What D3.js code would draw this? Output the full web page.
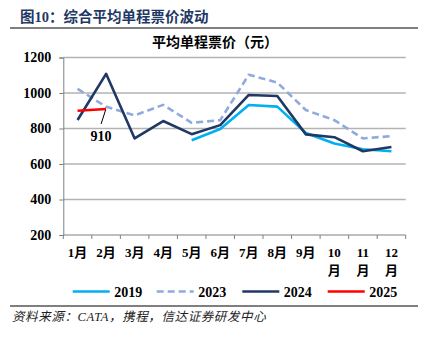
<!DOCTYPE html>
<html>
<head>
<meta charset="utf-8">
<script src="https://cdn.jsdelivr.net/npm/d3@7"></script>
<style>
  html, body { margin: 0; padding: 0; background: #fff; }
  svg { display: block; }
</style>
</head>
<body>
<svg id="chart" width="434" height="340"></svg>
<script>
// Monthly average one-way fare (yuan)
const months = ["1月","2月","3月","4月","5月","6月","7月","8月","9月","10月","11月","12月"];
const yTicks = [200, 400, 600, 800, 1000, 1200];
const fare2019 = [null, null, null, null, 734, 797, 932, 923, 775, 716, 683, 672];
const fare2023 = [1023, 923, 874, 933, 832, 847, 1103, 1059, 904, 847, 744, 757];
const fare2024 = [848, 1108, 744, 842, 768, 819, 989, 983, 767, 751, 672, 696];
const fare2025 = [900, 910];
const seriesNames = ["2019", "2023", "2024", "2025"];

(function () {
  const serif = "'Liberation Serif','Times New Roman','Noto Sans CJK SC',serif";
  const svg = d3.select("#chart");

  const series = [
    { name: seriesNames[0], values: fare2019, color: "#00b0f0", dash: null },
    { name: seriesNames[1], values: fare2023, color: "#8faadc", dash: "7,4" },
    { name: seriesNames[2], values: fare2024, color: "#1f3864", dash: null },
    { name: seriesNames[3], values: fare2025, color: "#ff0000", dash: null }
  ];

  const plotL = 63.3, plotR = 405.7, plotT = 57.5, plotB = 235;
  const x = d3.scaleBand().domain(months).range([plotL, plotR]).paddingInner(0).paddingOuter(0);
  const y = d3.scaleLinear().domain([200, 1200]).range([plotB, plotT]);
  const cx = m => x(m) + x.bandwidth() / 2;

  // Figure heading and rules
  svg.append("text").attr("x", 20).attr("y", 22)
    .attr("font-family", serif).attr("font-weight", "bold").attr("font-size", 14.5)
    .attr("fill", "#1f3864").text("图10：综合平均单程票价波动");
  svg.append("line").attr("x1", 10).attr("x2", 418).attr("y1", 28).attr("y2", 28)
    .attr("stroke", "#555").attr("stroke-width", 1.5);
  svg.append("line").attr("x1", 10).attr("x2", 418).attr("y1", 306).attr("y2", 306)
    .attr("stroke", "#555").attr("stroke-width", 1.5);

  // Chart title
  svg.append("text").attr("x", 215).attr("y", 47).attr("text-anchor", "middle")
    .attr("font-family", serif).attr("font-weight", "bold").attr("font-size", 14)
    .attr("fill", "#000").text("平均单程票价（元）");

  // Horizontal gridlines
  svg.append("g").selectAll("line").data(yTicks.filter(t => t > 200)).join("line")
    .attr("x1", plotL).attr("x2", plotR)
    .attr("y1", d => y(d)).attr("y2", d => y(d))
    .attr("stroke", "#b3b3b3").attr("stroke-width", 1.3);

  // Y axis
  const yAxis = svg.append("g").attr("transform", `translate(${plotL},0)`)
    .call(d3.axisLeft(y).tickValues(yTicks).tickFormat(d3.format("d")).tickSize(4).tickPadding(8));
  yAxis.select(".domain").attr("stroke", "#7f7f7f");
  yAxis.selectAll(".tick line").attr("stroke", "#7f7f7f");
  yAxis.selectAll("text").attr("font-family", serif).attr("font-weight", "bold")
    .attr("font-size", 14).attr("fill", "#000");

  // X axis with boundary ticks between months
  const xg = svg.append("g");
  xg.append("line").attr("x1", plotL).attr("x2", plotR).attr("y1", plotB).attr("y2", plotB)
    .attr("stroke", "#7f7f7f");
  const boundaries = months.map(m => x(m)).concat([plotR]);
  xg.selectAll("line.tk").data(boundaries).join("line").attr("class", "tk")
    .attr("x1", d => d).attr("x2", d => d).attr("y1", plotB).attr("y2", plotB + 4)
    .attr("stroke", "#7f7f7f");
  xg.selectAll("text").data(months).join("text")
    .attr("text-anchor", "middle")
    .attr("font-family", serif).attr("font-weight", "bold").attr("font-size", 13)
    .attr("fill", "#000")
    .each(function (d) {
      const t = d3.select(this);
      const px = cx(d);
      if (d.length > 2) {
        t.append("tspan").attr("x", px).attr("y", 257).text(d.slice(0, -1));
        t.append("tspan").attr("x", px).attr("y", 275).text("月");
      } else {
        t.append("tspan").attr("x", px).attr("y", 257).text(d);
      }
    });

  // Series lines
  const line = d3.line().defined(d => d.v != null).x(d => cx(d.m)).y(d => y(d.v));
  svg.append("g").selectAll("path").data(series).join("path")
    .attr("d", s => line(s.values.map((v, i) => ({ m: months[i], v }))))
    .attr("fill", "none").attr("stroke", s => s.color).attr("stroke-width", 2.6)
    .attr("stroke-linejoin", "round")
    .attr("stroke-dasharray", s => s.dash);

  // Data label for latest 2025 point
  const lastIdx = fare2025.length - 1;
  const lx = cx(months[lastIdx]), ly = y(fare2025[lastIdx]);
  svg.append("line").attr("x1", lx - 0.5).attr("y1", ly + 1).attr("x2", lx - 5).attr("y2", ly + 15)
    .attr("stroke", "#000").attr("stroke-width", 1);
  svg.append("text").attr("x", lx - 5).attr("y", ly + 32).attr("text-anchor", "middle")
    .attr("font-family", serif).attr("font-weight", "bold").attr("font-size", 14)
    .attr("fill", "#000").text(fare2025[lastIdx]);

  // Legend
  const legendX = [72.7, 156.7, 242.3, 327.7];
  const lg = svg.append("g").selectAll("g").data(series).join("g")
    .attr("transform", (d, i) => `translate(${legendX[i]},291.5)`);
  lg.append("line").attr("x1", 0).attr("x2", 37).attr("y1", 0).attr("y2", 0)
    .attr("stroke", d => d.color).attr("stroke-width", 2.6)
    .attr("stroke-dasharray", d => d.dash);
  lg.append("text").attr("x", 41.5).attr("y", 5.5)
    .attr("font-family", serif).attr("font-weight", "bold").attr("font-size", 14)
    .attr("fill", "#000").text(d => d.name);

  // Source note
  svg.append("text").attr("x", 12).attr("y", 321)
    .attr("font-family", serif).attr("font-style", "italic").attr("font-size", 12.5)
    .attr("letter-spacing", 0.6)
    .attr("fill", "#222").text("资料来源：CATA，携程，信达证券研发中心");
})();
</script>
</body>
</html>
